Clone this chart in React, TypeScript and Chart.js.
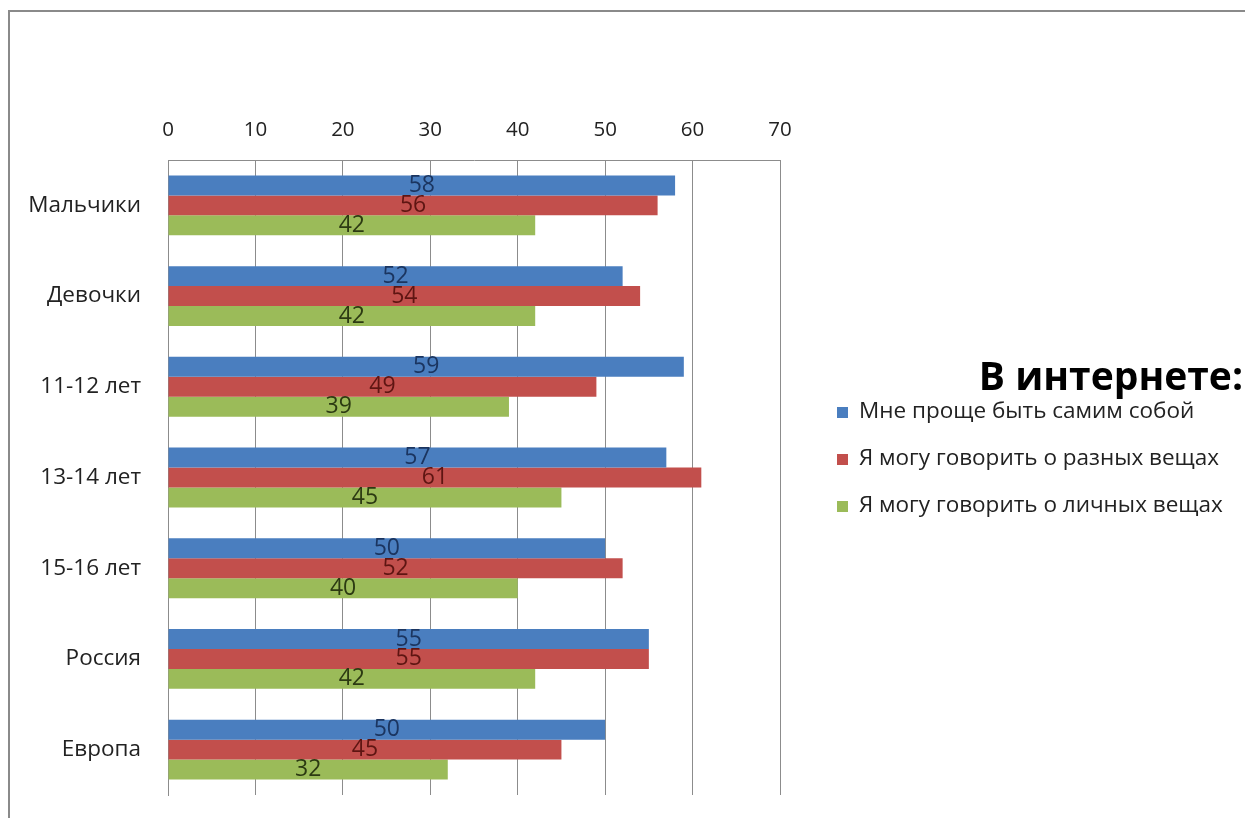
import React, { useEffect, useRef } from "react";
import { Chart, registerables } from "chart.js";

Chart.register(...registerables);

const categories = ["Мальчики", "Девочки", "11-12 лет", "13-14 лет", "15-16 лет", "Россия", "Европа"];
const seriesNames = [
  "Мне проще быть самим собой",
  "Я могу говорить о разных вещах",
  "Я могу говорить о личных вещах",
];
const easierToBeMyself = [58, 52, 59, 57, 50, 55, 50];
const differentThings = [56, 54, 49, 61, 52, 55, 45];
const personalThings = [42, 42, 39, 45, 40, 42, 32];
const barColors = ["#4A7EBF", "#C24F4C", "#9BBB59"];
const labelColors = ["#1B3560", "#5E1512", "#2C3A12"];
const legendTitle = "В интернете:";
const xMin = 0;
const xMax = 70;
const xStep = 10;

const FONT = "'Open Sans', 'Noto Sans', sans-serif";

const valueLabels = {
  id: "valueLabels",
  afterDatasetsDraw(chart: any) {
    const ctx = chart.ctx;
    ctx.save();
    ctx.font = `23px ${FONT}`;
    ctx.textAlign = "center";
    ctx.textBaseline = "middle";
    chart.data.datasets.forEach((ds: any, di: number) => {
      const meta = chart.getDatasetMeta(di);
      meta.data.forEach((el: any, i: number) => {
        const p = el.getProps(["x", "y", "base"], true);
        ctx.fillStyle = labelColors[di];
        ctx.fillText(String(ds.data[i]), (p.x + p.base) / 2, p.y);
      });
    });
    ctx.restore();
  },
};

const sideLegend = {
  id: "sideLegend",
  afterDraw(chart: any) {
    const ctx = chart.ctx;
    ctx.save();
    ctx.fillStyle = "#000";
    ctx.font = `bold 39px ${FONT}`;
    ctx.textAlign = "right";
    ctx.textBaseline = "alphabetic";
    ctx.fillText(legendTitle, 1243, 390);
    ctx.font = `22.5px ${FONT}`;
    ctx.textAlign = "left";
    chart.data.datasets.forEach((ds: any, i: number) => {
      const base = 418 + i * 47;
      ctx.fillStyle = barColors[i];
      ctx.fillRect(837, base - 11, 11, 11);
      ctx.fillStyle = "#222";
      ctx.fillText(ds.label, 859, base);
    });
    ctx.restore();
  },
};

export default function App() {
  const ref = useRef<HTMLCanvasElement | null>(null);
  useEffect(() => {
    if (!ref.current) return;
    const chart = new Chart(ref.current, {
      type: "bar",
      data: {
        labels: categories,
        datasets: [easierToBeMyself, differentThings, personalThings].map((d, i) => ({
          label: seriesNames[i],
          data: d,
          backgroundColor: barColors[i],
          borderWidth: 0,
          categoryPercentage: 0.66,
          barPercentage: 1.0,
        })),
      },
      options: {
        indexAxis: "y",
        responsive: false,
        animation: false,
        layout: { padding: { left: 0, top: 0, right: 465, bottom: 23 } },
        plugins: {
          legend: { display: false },
          tooltip: { enabled: false },
        },
        scales: {
          x: {
            position: "top",
            min: xMin,
            max: xMax,
            ticks: { stepSize: xStep, padding: 18, color: "#222", font: { size: 20.5, family: FONT } },
            grid: { color: "#8c8c8c", drawTicks: false },
            border: { display: true, color: "#8c8c8c" },
            afterFit: (s: any) => {
              s.height = 160;
              s.paddingLeft = 0;
              s.paddingRight = 0;
            },
          },
          y: {
            ticks: { padding: 27, color: "#222", font: { size: 22.5, family: FONT } },
            grid: { display: false, drawTicks: false },
            border: { display: true, color: "#8c8c8c" },
            afterFit: (s: any) => {
              s.width = 168;
              s.paddingTop = 0;
              s.paddingBottom = 0;
            },
          },
        },
      },
      plugins: [valueLabels, sideLegend],
    });
    return () => chart.destroy();
  }, []);

  return (
    <div style={{ position: "fixed", left: 0, top: 0, width: 1245, height: 818, background: "#fff", overflow: "hidden" }}>
      <canvas ref={ref} width={1245} height={818} style={{ position: "absolute", left: 0, top: 0 }} />
      <div
        style={{
          position: "absolute",
          left: 8,
          top: 10,
          width: 1245,
          height: 818,
          borderTop: "2px solid #8a8a8a",
          borderLeft: "2px solid #8a8a8a",
          pointerEvents: "none",
        }}
      />
    </div>
  );
}
